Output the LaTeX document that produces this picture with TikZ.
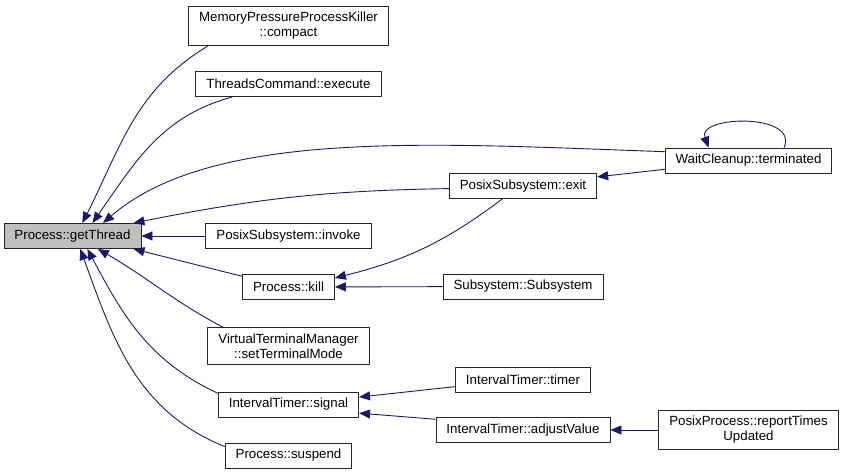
\documentclass[tikz,border=0pt]{standalone}
\usepackage{fontspec}
\setmainfont{Liberation Sans}
\usepackage{tikz}
\usetikzlibrary{arrows.meta}
\definecolor{EdgeBlue}{RGB}{25,25,112}
\definecolor{NodeGray}{RGB}{191,191,191}

\begin{document}
\begin{tikzpicture}[x=1pt, y=1pt,
    fn/.style={rectangle, draw=black!85, fill=white, line width=0.9pt,
               minimum height=25pt, inner xsep=10.5pt, inner ysep=6pt,
               align=center, font=\fontsize{13.3}{15}\selectfont},
    call/.style={-{Triangle[length=11pt,width=9pt]}, color=EdgeBlue, line width=0.9pt}
]
    \useasboundingbox (0,0) rectangle (844,474);
    \node[fn, fill=NodeGray] (gt) at (72.5,238) {Process::getThread};
    \node[fn] (mpk) at (288.5,448) {MemoryPressureProcessKiller\\::compact};
    \node[fn] (tce) at (288.5,390) {ThreadsCommand::execute};
    \node[fn] (inv) at (288.5,238) {PosixSubsystem::invoke};
    \node[fn] (kill) at (288.5,187) {Process::kill};
    \node[fn] (vtm) at (288.5,128) {VirtualTerminalManager\\::setTerminalMode};
    \node[fn] (sig) at (288.5,69.5) {IntervalTimer::signal};
    \node[fn] (susp) at (288.5,18.5) {Process::suspend};
    \node[fn] (exit) at (523,288) {PosixSubsystem::exit};
    \node[fn] (subs) at (523,187.5) {Subsystem::Subsystem};
    \node[fn] (timer) at (523,94.5) {IntervalTimer::timer};
    \node[fn] (adj) at (523,44) {IntervalTimer::adjustValue};
    \node[fn] (term) at (748.5,313.5) {WaitCleanup::terminated};
    \node[fn] (rtu) at (748.5,44) {PosixProcess::reportTimes\\Updated};

    \draw[call] (mpk.194) to[out=211,in=63] (gt.53);
    \draw[call] (tce.193) to[out=195,in=55] (gt.33);
    \draw[call] (term.174) .. controls +(-230,8) and +(110,95) .. (gt.23);
    \draw[call] (exit.182) .. controls +(-120,-2) and +(125,25) .. (gt.12);
    \draw[call] (inv) -- (gt);
    \draw[call] (kill.167) -- (gt.348);
    \draw[call] (vtm.164) to[out=152,in=-30] (gt.333);
    \draw[call] (sig.171) to[out=155,in=-62] (gt.319);
    \draw[call] (susp.172) to[out=158,in=-70] (gt.301);
    \draw[call] (term.186) -- (exit.7);
    \draw[call] (term.20) .. controls +(15,35) and +(-12,32) .. (term.162);
    \draw[call] (exit.212) to[out=217,in=14] (kill.11);
    \draw[call] (subs) -- (kill);
    \draw[call] (timer.186) -- (sig.6);
    \draw[call] (adj.173) -- (sig.353);
    \draw[call] (rtu) -- (adj);
\end{tikzpicture}
\end{document}
